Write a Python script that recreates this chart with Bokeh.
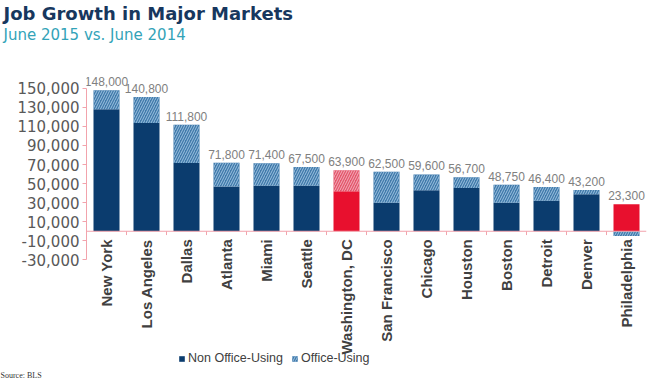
import math
from bokeh.plotting import figure
from bokeh.models import (ColumnDataSource, FactorRange, FixedTicker, NumeralTickFormatter,
                          Title, Legend, LegendItem, Span)
from bokeh.core.properties import value
from bokeh.embed import file_html
from bokeh.resources import INLINE

# ---- data ----
cities = ["New York", "Los Angeles", "Dallas", "Atlanta", "Miami", "Seattle",
          "Washington, DC", "San Francisco", "Chicago", "Houston", "Boston",
          "Detroit", "Denver", "Philadelphia"]
totals = [148000, 140800, 111800, 71800, 71400, 67500, 63900, 62500, 59600,
          56700, 48750, 46400, 43200, 23300]
non_office = [128000, 113500, 71500, 47000, 47800, 47800, 42000, 30000, 43000,
              45500, 30000, 32000, 38800, 28300]
highlight = ["Washington, DC", "Philadelphia"]
y_ticks = list(range(-30000, 150001, 20000))

office = [t - n for t, n in zip(totals, non_office)]

NAVY = "#0B3C6E"
RED = "#E8102E"
BLUE = "#4079AA"
BLUE_HATCH = "#9CC2E0"
PINK = "#E2566C"
PINK_HATCH = "#F4AEBA"
AXIS = "#F2A3AC"
FONT = "Liberation Sans"
FONT2 = "DejaVu Sans"

non_colors = [RED if c in highlight else NAVY for c in cities]
off_colors = [PINK if c == "Washington, DC" else BLUE for c in cities]
off_hatch = [PINK_HATCH if c == "Washington, DC" else BLUE_HATCH for c in cities]

off_bottom = [n if o >= 0 else 0 for n, o in zip(non_office, office)]
off_top = [n + o if o >= 0 else o for n, o in zip(non_office, office)]
label_y = [max(n, n + o) for n, o in zip(non_office, office)]
labels = [f"{t:,}" for t in totals]

src_non = ColumnDataSource(dict(x=cities, top=non_office, bottom=[0] * len(cities), color=non_colors))
src_off = ColumnDataSource(dict(x=cities, top=off_top, bottom=off_bottom, color=off_colors, hatch=off_hatch))
src_lab = ColumnDataSource(dict(x=cities, y=label_y, text=labels))
src_cat = ColumnDataSource(dict(x=cities, y=[0] * len(cities), text=cities))

p = figure(x_range=FactorRange(*cities), y_range=(-144000, 197000),
           width=647, height=379, output_backend="svg", toolbar_location=None,
           x_axis_location=None,
           min_border_left=86, min_border_right=1, min_border_top=0, min_border_bottom=0,
           title=None)

r_non = p.vbar(x="x", top="top", bottom="bottom", width=0.65, source=src_non,
               fill_color="color", line_color=None)
r_off = p.vbar(x="x", top="top", bottom="bottom", width=0.65, source=src_off,
               fill_color="color", line_color=None, hatch_pattern="/",
               hatch_color="hatch", hatch_scale=5, hatch_weight=1)

p.text(x="x", y="y", text="text", source=src_lab, text_align="center",
       text_baseline="bottom", y_offset=-4, text_font=value(FONT),
       text_font_size="12px", text_color="#808080")
p.text(x="x", y="y", text="text", source=src_cat, text_align="right",
       text_baseline="middle", angle=math.pi / 2, y_offset=8,
       text_font=value(FONT), text_font_size="15px", text_font_style="bold",
       text_color="#404040")

p.add_layout(Span(location=0, dimension="width", line_color=AXIS, line_width=1))
bx = list(range(1, len(cities)))
p.segment(x0=bx, x1=bx, y0=[0] * len(bx), y1=[-4000] * len(bx), line_color=AXIS, line_width=1)

p.xgrid.visible = False
p.ygrid.visible = False
p.outline_line_color = None

ya = p.yaxis[0]
ya.ticker = FixedTicker(ticks=y_ticks)
ya.formatter = NumeralTickFormatter(format="0,0")
ya.bounds = (min(y_ticks), max(y_ticks))
ya.axis_line_color = AXIS
ya.major_tick_line_color = AXIS
ya.minor_tick_line_color = None
ya.major_tick_in = 0
ya.major_tick_out = 4
ya.major_label_standoff = 3
ya.major_label_text_font = FONT2
ya.major_label_text_font_size = "15px"
ya.major_label_text_color = "#595959"

legend = Legend(items=[LegendItem(label="Non Office-Using", renderers=[r_non], index=0),
                       LegendItem(label="Office-Using", renderers=[r_off], index=0)],
                orientation="horizontal", location=(92, 3), glyph_width=7, glyph_height=7,
                label_text_font=FONT, label_text_font_size="12.5px", label_text_color="#404040",
                border_line_color=None, background_fill_alpha=0, spacing=8, padding=0,
                margin=0, label_standoff=3)
p.add_layout(legend)

p.add_layout(Title(text="June 2015 vs. June 2014", text_font=FONT2, text_font_size="15px",
                   text_font_style="normal", text_color="#33A3B8", align="left",
                   offset=-83, standoff=0), "above")
p.add_layout(Title(text="Job Growth in Major Markets", text_font=FONT2, text_font_size="18px",
                   text_font_style="bold", text_color="#17375E", align="left",
                   offset=-83, standoff=0), "above")
p.add_layout(Title(text="Source: BLS", text_font="Liberation Serif", text_font_size="8px",
                   text_font_style="normal", text_color="#333333", align="left",
                   offset=-86, standoff=0), "below")

open("out.html", "w").write(file_html(p, INLINE))
